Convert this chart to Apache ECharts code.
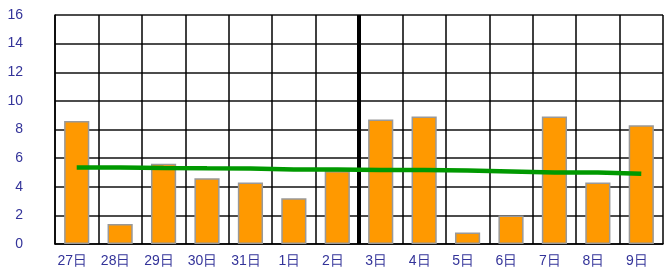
<!DOCTYPE html>
<html>
<head>
<meta charset="utf-8">
<script src="https://cdn.jsdelivr.net/npm/echarts@6/dist/echarts.min.js"></script>
<style>
html,body{margin:0;padding:0;background:#fff;}
#chart{width:669px;height:273px;}
</style>
</head>
<body>
<div id="chart"></div>
<script>
var categories = ['27日','28日','29日','30日','31日','1日','2日','3日','4日','5日','6日','7日','8日','9日'];
var barValues = [8.6, 1.4, 5.6, 4.6, 4.3, 3.2, 5.1, 8.7, 8.9, 0.8, 2.0, 8.9, 4.3, 8.3];
var trendValues = [5.35, 5.35, 5.31, 5.29, 5.28, 5.21, 5.21, 5.17, 5.17, 5.14, 5.07, 5.0, 5.0, 4.9];
var yTicks = [0, 2, 4, 6, 8, 10, 12, 14, 16];
var dividerPosition = 7; // boundary between 2日 and 3日 (category index)

var labelColor = '#333399';
var chart = echarts.init(document.getElementById('chart'), null, {renderer: 'canvas'});
chart.setOption({
  animation: false,
  backgroundColor: '#ffffff',
  grid: {left: 55, right: 6, top: 15, bottom: 29, containLabel: false, show: false},
  xAxis: [{
    type: 'category',
    data: categories,
    boundaryGap: true,
    axisLine: {show: true, lineStyle: {color: '#000', width: 1.5}},
    axisTick: {show: false},
    axisLabel: {color: labelColor, fontSize: 14, fontFamily: 'Liberation Sans, Arial, sans-serif', margin: 10, interval: 0, padding: [0, 9, 0, 0]},
    splitLine: {show: true, interval: 0, lineStyle: {color: '#000', width: 1.5}}
  }, {
    type: 'value',
    min: 0, max: 14,
    show: false
  }],
  yAxis: {
    type: 'value',
    min: yTicks[0], max: yTicks[yTicks.length - 1], interval: 2,
    axisLine: {show: true, lineStyle: {color: '#000', width: 1.5}},
    axisTick: {show: false},
    axisLabel: {color: labelColor, fontSize: 14, fontFamily: 'Liberation Sans, Arial, sans-serif', margin: 32},
    splitLine: {show: true, lineStyle: {color: '#111', width: 1.5}}
  },
  series: [{
    type: 'bar',
    data: barValues,
    barWidth: '58%',
    itemStyle: {color: '#FF9900', borderColor: '#999999', borderWidth: 1.5},
    z: 2
  }, {
    type: 'line',
    xAxisIndex: 1,
    data: [[dividerPosition, yTicks[0]], [dividerPosition, yTicks[yTicks.length - 1]]],
    symbol: 'none',
    lineStyle: {color: '#000', width: 4},
    z: 3
  }, {
    type: 'line',
    data: trendValues,
    symbol: 'none',
    smooth: false,
    lineStyle: {color: '#009900', width: 4.5, cap: 'butt'},
    z: 4
  }]
});
</script>
</body>
</html>
